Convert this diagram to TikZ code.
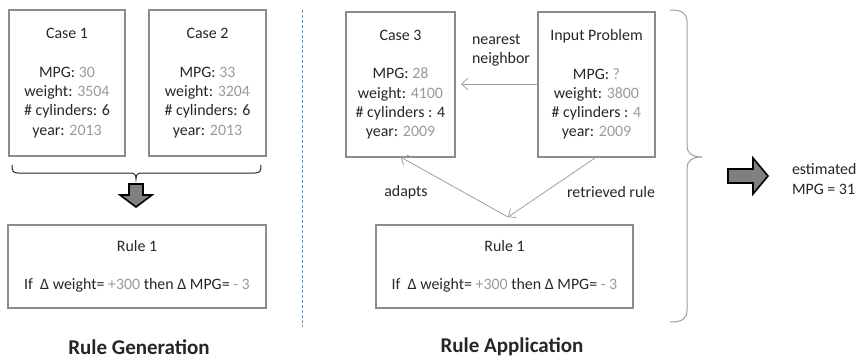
\documentclass[tikz,border=0pt]{standalone}
\usepackage{fontspec}
\setmainfont{Carlito}
\usetikzlibrary{arrows.meta}
\definecolor{txt}{HTML}{262626}
\definecolor{numg}{HTML}{9A9A9A}
\definecolor{boxg}{HTML}{8C8C8C}
\definecolor{arrg}{HTML}{A0A0A0}
\definecolor{blockg}{HTML}{808080}
\definecolor{dashblue}{HTML}{5B9BD5}
\newcommand{\gnum}[1]{\textcolor{numg}{#1}}
\begin{document}
\begin{tikzpicture}[x=1pt,y=-1pt,
  every node/.style={text=txt,font=\fontsize{15.9}{19.3}\selectfont,inner sep=0pt,outer sep=0pt},
  casebox/.style={draw=boxg,line width=2.3pt,align=center,minimum height=146pt},
  rulebox/.style={draw=boxg,line width=2.3pt,align=center,minimum height=83pt,minimum width=257pt},
  conn/.style={draw=arrg,line width=0.8pt,-{Straight Barb[length=6pt,width=11pt]}},
  title/.style={font=\fontsize{21}{25}\selectfont\bfseries},
  blockarrow/.style={fill=blockg,draw=black,line width=1.6pt,line join=miter},
  bracestyle/.style={draw=txt,line width=1pt},
  bigbrace/.style={draw=arrg,line width=1pt}]
\useasboundingbox (0,0) rectangle (857,360);

% left part
\node[casebox,minimum width=116pt] (c1) at (67,83) {Case 1\\[19.3pt]MPG: \gnum{30}\\weight: \gnum{3504}\\\# cylinders: 6\\year: \gnum{2013}};
\node[casebox,minimum width=117pt] (c2) at (207.5,83) {Case 2\\[19.3pt]MPG: \gnum{33}\\weight: \gnum{3204}\\\# cylinders: 6\\year: \gnum{2013}};

\coordinate (bl) at (12,165);
\coordinate (br) at (261,165);
\coordinate (btip) at (136,179);
\draw[bracestyle] (bl) .. controls (12,171) and (13,173) .. (18,173) -- (130,173)
  .. controls (134,173) and (136,174) .. (btip)
  .. controls (136,174) and (138,173) .. (142,173) -- (255,173)
  .. controls (260,173) and (261,171) .. (br);

\draw[blockarrow] (129,184) -- (143,184) -- (143,195) -- (152,195) -- (136,207) -- (120,195) -- (129,195) -- cycle;

\node[rulebox,minimum width=258pt] (r1) at (137,266.5) {Rule 1\\[19.3pt]If~~Δ weight= \gnum{+300} then Δ MPG= \gnum{- 3}};

\node[title] (tg) at (139,347) {Rule Generation};

% divider
\coordinate (d1) at (302,10);
\coordinate (d2) at (302,327);
\draw[dashblue,line width=1pt,dash pattern=on 3pt off 2pt] (d1) -- (d2);

% right part
\node[casebox,minimum width=109pt,minimum height=145pt] (c3) at (400.5,84.5) {Case 3\\[19.3pt]MPG: \gnum{28}\\weight: \gnum{4100}\\\# cylinders : 4\\year: \gnum{2009}};
\node[casebox,minimum width=117pt,minimum height=145pt] (ip) at (596.5,84.5) {Input Problem\\[19.3pt]MPG: \gnum{?}\\weight: \gnum{3800}\\\# cylinders : \gnum{4}\\year: \gnum{2009}};

\node[align=left,anchor=west] (nn) at (472,50) {nearest\\neighbor};
\coordinate (nnend) at (461,84);
\draw[conn] (ip.west |- nnend) -- (nnend);

\node[rulebox] (r2) at (504.5,266.5) {Rule 1\\[19.3pt]If~~Δ weight= \gnum{+300} then Δ MPG= \gnum{- 3}};

\coordinate (apex) at (508,217);
\draw[conn] (ip.south) -- (apex);
\draw[conn] (apex) -- (c3.south);
\node (ad) at (406,192) {adapts};
\node (rr) at (611,192) {retrieved rule};

\node[title] (ta) at (512,347) {Rule Application};

% big brace and result
\coordinate (bt) at (670,10);
\coordinate (bb) at (670,322);
\coordinate (rtip) at (702,157);
\draw[bigbrace] (bt) .. controls (682,10) and (687,13) .. (687,22) -- (687,146)
  .. controls (687,153) and (692,157) .. (rtip)
  .. controls (692,157) and (687,161) .. (687,168) -- (687,310)
  .. controls (687,319) and (682,322) .. (bb);

\draw[blockarrow] (728,169) -- (753,169) -- (753,158) -- (768,176) -- (753,194) -- (753,183) -- (728,183) -- cycle;

\node[align=left,anchor=west] (est) at (792,179) {estimated\\MPG = 31};
\end{tikzpicture}
\end{document}
